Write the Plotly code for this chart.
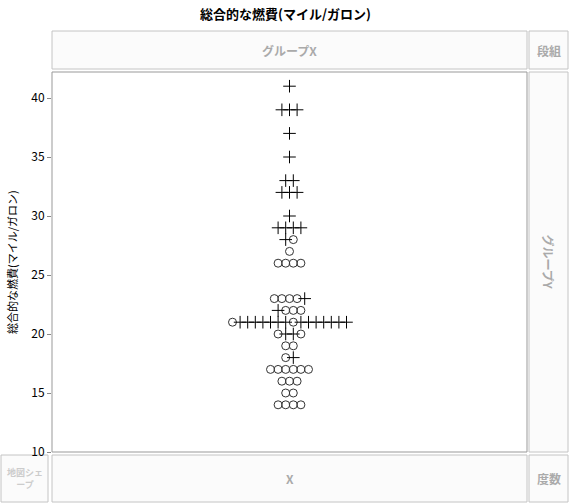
import plotly.graph_objects as go

# mpg values and the marker type of each point, left to right within a row
rows_y = [41, 39, 37, 35, 33, 32, 30, 29, 28, 27, 26, 23, 22, 21, 20, 19, 18, 17, 16, 15, 14]
rows_kind = ["+", "+++", "+", "+", "++", "+++", "+", "++++", "+o", "o", "oooo",
             "oooo+", "+ooo", "o+++++++o+++++++", "o++o", "oo", "o+", "oooooo",
             "ooo", "oo", "oooo"]

W, H = 570, 503
L, R, T, B = 52, 43, 72, 51
PW, PH = W - L - R, H - T - B

def px(x):
    return (x - L) / PW

def py(y):
    return (H - B - y) / PH

xs_o, ys_o, xs_p, ys_p = [], [], [], []
step = 7.6
for y, kinds in zip(rows_y, rows_kind):
    n = len(kinds)
    for i, k in enumerate(kinds):
        x = (i - (n - 1) / 2) * step
        if k == "o":
            xs_o.append(x); ys_o.append(y)
        else:
            xs_p.append(x); ys_p.append(y)

fig = go.Figure()
fig.add_trace(go.Scatter(x=xs_o, y=ys_o, mode="markers",
                         marker=dict(symbol="circle-open", size=8, color="#333", line=dict(width=1))))
fig.add_trace(go.Scatter(x=xs_p, y=ys_p, mode="markers",
                         marker=dict(symbol="cross-thin-open", size=9, color="black", line=dict(width=1, color="black"))))

gray = "#c4c4c4"
shapes = [dict(type="rect", xref="paper", yref="paper", x0=0, x1=1, y0=0, y1=1,
               line=dict(color="#999", width=1))]
boxes = [
    (52, 527, 31, 69, "グループX", 0, 12, "#aaa"),
    (529, 568, 31, 69, "段組", 0, 12, "#aaa"),
    (529, 568, 72, 452, "グループY", 90, 12, "#aaa"),
    (52, 527, 455, 502, "X", 0, 12, "#aaa"),
    (529, 568, 455, 502, "度数", 0, 12, "#aaa"),
    (1, 48, 455, 502, "地図シェ<br>ープ", 0, 9, "#ccc"),
]
ann = []
for x0, x1, y0, y1, txt, ang, fs, col in boxes:
    shapes.append(dict(type="rect", xref="paper", yref="paper", x0=px(x0), x1=px(x1),
                       y0=py(y1), y1=py(y0), line=dict(color=gray, width=1), fillcolor="#fbfbfb", layer="below"))
    ann.append(dict(text="<b>%s</b>" % txt, xref="paper", yref="paper", x=px((x0 + x1) / 2),
                    y=py((y0 + y1) / 2), xanchor="center", yanchor="middle", showarrow=False,
                    textangle=ang, font=dict(size=fs, color=col)))
ann.append(dict(text="<b>総合的な燃費(マイル/ガロン)</b>", xref="paper", yref="paper", x=px(285), y=py(14),
                xanchor="center", yanchor="middle", showarrow=False, font=dict(size=13, color="black")))
ann.append(dict(text="総合的な燃費(マイル/ガロン)", xref="paper", yref="paper", x=px(12), y=py(262),
                xanchor="center", yanchor="middle", showarrow=False, textangle=-90,
                font=dict(size=11, color="black")))

fig.update_layout(
    width=W, height=H, margin=dict(l=L, r=R, t=T, b=B),
    plot_bgcolor="white", paper_bgcolor="white", showlegend=False,
    font=dict(family="Noto Sans CJK JP, sans-serif", size=12, color="black"),
    xaxis=dict(range=[-PW / 2, PW / 2], visible=False),
    yaxis=dict(range=[10, 10 + PH / 11.8], tickvals=[10, 15, 20, 25, 30, 35, 40],
               showgrid=False, zeroline=False, ticks="outside", ticklen=4, tickcolor="#888"),
    shapes=shapes, annotations=ann,
)
fig.write_html("out.html", config={"displayModeBar": False},
               post_script="document.body.style.margin='0';")
